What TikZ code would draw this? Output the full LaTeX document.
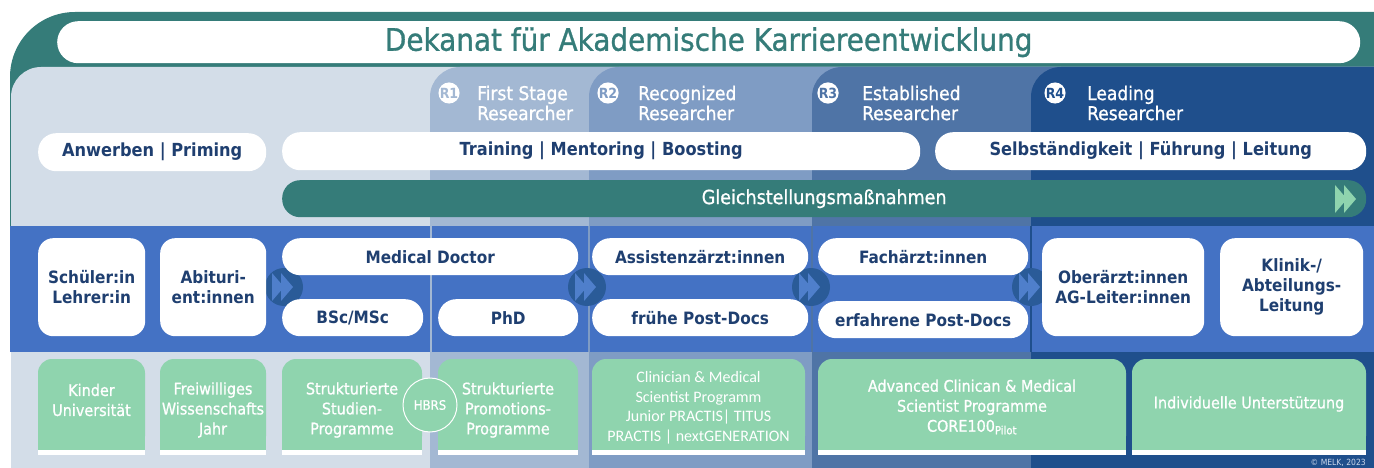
\documentclass[tikz,border=0pt]{standalone}
\usepackage{fontspec}
\setmainfont{DejaVu Sans Condensed}
\newfontfamily\medfont{DejaVu Sans Condensed}[FakeBold=0.9]
\newfontfamily\narrowfont{Carlito}
\usetikzlibrary{positioning}

\definecolor{dteal}{HTML}{357C79}
\definecolor{bglight}{HTML}{D3DDE8}
\definecolor{rone}{HTML}{A3B8D3}
\definecolor{rtwo}{HTML}{7F9CC4}
\definecolor{rthree}{HTML}{4F74A6}
\definecolor{rfour}{HTML}{1F4F8C}
\definecolor{band}{HTML}{4472C4}
\definecolor{navytxt}{HTML}{1F3F70}
\definecolor{mint}{HTML}{8FD4AE}
\definecolor{circblue}{HTML}{2A5B98}
\definecolor{arrblue}{HTML}{4F7FCB}
\definecolor{copytxt}{HTML}{C9D6EA}

\tikzset{
  pill/.style={fill=white, rounded corners=18pt, minimum height=37pt, inner sep=0pt,
    anchor=north west, text=navytxt, font=\bfseries\fontsize{17}{20}\selectfont},
  toppill/.style={pill, minimum height=38pt, text depth=5pt, font=\bfseries\fontsize{18}{20}\selectfont},
  jobbox/.style={pill, rounded corners=15pt, minimum height=98pt, align=center},
  badge/.style={circle, fill=white, inner sep=0pt, minimum size=21pt,
    font=\bfseries\fontsize{14}{12}\selectfont},
  headtext/.style={anchor=west, inner sep=0pt, text=white, align=left,
    font=\medfont\fontsize{19}{20}\selectfont},
  gtext/.style={text=white, align=center, inner sep=0pt, font=\medfont\fontsize{16}{20}\selectfont},
  ntext/.style={gtext, font=\narrowfont\fontsize{16}{19.5}\selectfont},
  ffwd/.pic={\fill (0,-14) -- (12,0) -- (0,14) -- cycle (9,-14) -- (21,0) -- (9,14) -- cycle;}
}

\begin{document}
\begin{tikzpicture}[x=1pt, y=-1pt, line join=round]
  \def\bt{226}\def\bb{352}
  \useasboundingbox (0,0) rectangle (1374,468);
  \clip (0,0) rectangle (1374,468);
  % frame and title
  \fill[dteal, rounded corners=65pt] (10,12) rectangle (1440,300);
  \node[fill=white, rounded corners=21pt, minimum width=1303pt, minimum height=42pt,
    inner sep=0pt, anchor=north west, text=dteal, font=\medfont\fontsize{31}{30}\selectfont]
    (title) at (57,21) {Dekanat für Akademische Karriereentwicklung};
  % columns
  \foreach \x/\c in {11/bglight, 430/rone, 589/rtwo, 812/rthree, 1031/rfour}
    \fill[\c, rounded corners=30pt] (\x,67) rectangle (1440,520);
  \foreach \n/\bx/\tx/\c/\t in {1/449/477/rone/{First Stage\\Researcher},
    2/608/638/rtwo/{Recognized\\Researcher}, 3/828/862/rthree/{Established\\Researcher},
    4/1055/1087/rfour/{Leading\\Researcher}}{
    \node[badge, text=\c] (badge\n) at (\bx,93) {R\n};
    \node[headtext] (head\n) at (\tx,103) {\t};
  }
  % top rows
  \node[toppill, minimum width=228pt] (anwerben) at (38,133) {Anwerben | Priming};
  \node[toppill, minimum width=638pt] (training) at (282,132) {Training | Mentoring | Boosting};
  \node[toppill, minimum width=431pt] (fuehrung) at (935,132) {Selbständigkeit | Führung | Leitung};
  \node[pill, fill=dteal, text=white, minimum width=1084pt, font=\medfont\fontsize{19.5}{20}\selectfont]
    (gleich) at (282,180) {Gleichstellungsmaßnahmen};
  \pic[fill=mint] at (1335,199) {ffwd};
  % band
  \fill[band] (10,\bt) rectangle (1374,\bb);
  \foreach \x/\c in {431/rone, 589/rtwo, 812/rthree, 1031/rfour}
    \draw[\c, line width=1.5pt] (\x,\bt) -- (\x,\bb);
  \foreach \x in {284,587,811,1031}{
    \fill[circblue] (\x,287) circle (19);
    \pic[fill=arrblue] at (\x-12,287) {ffwd};
  }
  \node[jobbox, minimum width=107pt] (schueler) at (38,238) {Schüler:in\\Lehrer:in};
  \node[jobbox, minimum width=106pt] (abi) at (160,238) {Abituri-\\ent:innen};
  \node[pill, minimum width=296pt] (md) at (282,238) {Medical Doctor};
  \node[pill, minimum width=141pt] (bsc) at (282,299) {BSc/MSc};
  \node[pill, minimum width=140pt] (phd) at (438,299) {PhD};
  \node[pill, minimum width=216pt] (assist) at (592,238) {Assistenzärzt:innen};
  \node[pill, minimum width=216pt] (fruehpd) at (592,299) {frühe Post-Docs};
  \node[pill, minimum width=210pt] (facharzt) at (818,238) {Fachärzt:innen};
  \node[pill, minimum width=210pt] (erfpd) at (818,301) {erfahrene Post-Docs};
  \node[jobbox, minimum width=162pt] (oberarzt) at (1042,238) {Oberärzt:innen\\AG-Leiter:innen};
  \node[jobbox, minimum width=143pt] (klinik) at (1220,238) {Klinik-/\\Abteilungs-\\Leitung};
  % programmes
  \foreach \n/\a/\b/\y/\s/\t in {kinder/38/145/400/gtext/{Kinder\\Universität},
    fsj/160/266/410/gtext/{Freiwilliges\\Wissenschafts\\Jahr},
    studien/282/422/410/gtext/{Strukturierte\\Studien-\\Programme},
    promo/438/578/410/gtext/{Strukturierte\\Promotions-\\Programme},
    csp/592/805/408/ntext/{Clinician \& Medical\\Scientist Programm\\Junior PRACTIS| TITUS\\PRACTIS | nextGENERATION},
    acsp/818/1126/407/gtext/{Advanced Clinican \& Medical\\Scientist Programme\\CORE100\textsubscript{Pilot}},
    indiv/1132/1366/404/gtext/{Individuelle Unterstützung}}{
    \fill[mint, rounded corners=14pt] (\a,359) rectangle (\b,450);
    \fill[mint] (\a,420) rectangle (\b,450);
    \fill[white] (\a,450) rectangle (\b,455);
    \node[\s] (\n) at ({(\a+\b)/2},\y) {\t};
  }
  \node[circle, fill=mint, draw=white, line width=1pt, minimum size=54pt, inner sep=0pt,
    text=white, font=\medfont\fontsize{13}{13}\selectfont] (hbrs) at (430,405) {HBRS};
  \node[anchor=east, text=copytxt, inner sep=0pt, font=\fontsize{8.5}{9}\selectfont]
    (copy) at (1366,463) {© MELK, 2023};
\end{tikzpicture}
\end{document}
